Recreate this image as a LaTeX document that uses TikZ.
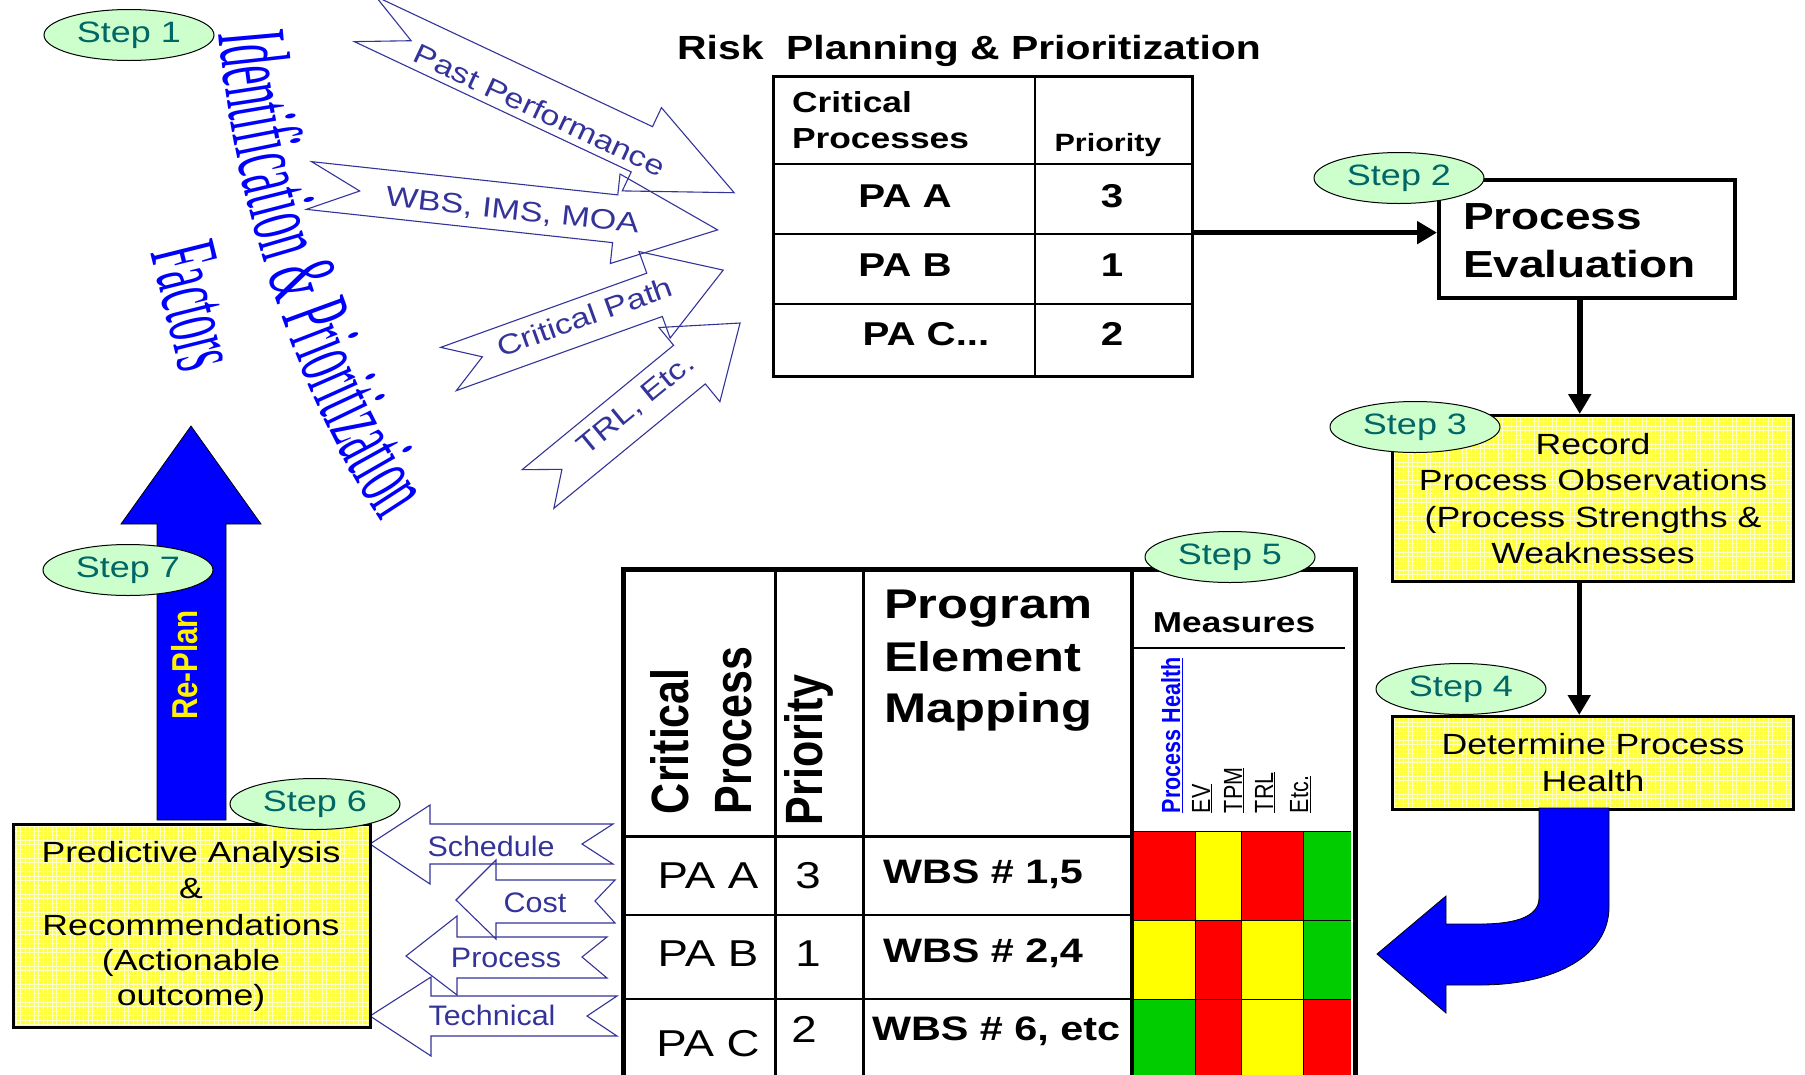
\documentclass[tikz,border=0pt]{standalone}
\usepackage{fontspec}
\setmainfont{Liberation Sans}[FakeStretch=1.22]
\newfontfamily\plainsans{Liberation Sans}
\newfontfamily\arrowfont{Liberation Sans}[FakeStretch=1.08]
\newfontfamily\idfont{Liberation Serif}[FakeStretch=0.44]
\usetikzlibrary{arrows.meta,decorations.text,calc,shapes.geometric}
\definecolor{stepfill}{RGB}{204,255,204}
\definecolor{steptext}{RGB}{0,102,102}
\definecolor{arrowblue}{RGB}{51,51,153}
\definecolor{boxyellow}{RGB}{255,255,60}
\definecolor{gridyellow}{RGB}{255,255,200}
\definecolor{cred}{RGB}{255,0,0}
\definecolor{cyellow}{RGB}{255,255,0}
\definecolor{cgreen}{RGB}{0,204,0}
\newcommand\myfs[2]{\fontsize{#1}{#2}\selectfont}
\begin{document}
\begin{tikzpicture}[x=1pt,y=-1pt,
  txt/.style={inner sep=0pt, outer sep=0pt},
  stepell/.style={ellipse, draw=black, line width=1pt, fill=stepfill, minimum width=170pt, minimum height=51pt, inner sep=0pt, text=steptext, font=\myfs{29.5}{31}},
  outl/.style={draw=arrowblue, line width=1.1pt, line join=miter},
  arrtext/.style={txt, text=arrowblue, font=\myfs{28}{30}},
  barrtext/.style={txt, anchor=base, text=arrowblue, font=\arrowfont\myfs{28.2}{30}},
  ybox/.style={draw=black, line width=2.5pt, fill=boxyellow, inner sep=0pt, anchor=north west,
    path picture={\draw[gridyellow, line width=0.7pt] (path picture bounding box.south west) grid[step=4.5pt] (path picture bounding box.north east);}},
  bigarrow/.style={line width=5.5pt, -{Triangle[length=20pt,width=22pt]}},
  body/.style={txt, anchor=base, font=\myfs{29.2}{36}},
  rotlab/.style={txt, rotate=90, anchor=base west, font=\plainsans\bfseries\myfs{43}{50}},
  measlab/.style={txt, rotate=90, anchor=base west, font=\plainsans\myfs{21.5}{24}},
]
\useasboundingbox (0,0) rectangle (1805,1074);
\clip (0,0) rectangle (1805,1074);

% ---------- title ----------
\node[txt, anchor=base, font=\bfseries\myfs{33.5}{36}] (title) at (969,59) {Risk~ Planning \& Prioritization};

% ---------- top table ----------
\node[draw, line width=3pt, minimum width=419pt, minimum height=300pt, anchor=north west, inner sep=0pt] (toptable) at (772,75) {};
\draw[line width=1.5pt] (1035,75) -- (1035,375);
\draw[line width=1.5pt] (772,164) -- (1191,164);
\draw[line width=1.5pt] (772,234) -- (1191,234);
\draw[line width=1.5pt] (772,304) -- (1191,304);
\node[txt, anchor=base west, font=\bfseries\myfs{29}{36}] (tcrit) at (792,112) {Critical};
\node[txt, anchor=base west, font=\bfseries\myfs{29}{36}] (tproc) at (792,148) {Processes};
\node[txt, anchor=base, font=\bfseries\myfs{25}{30}] (tprio) at (1108,151) {Priority};
\node[txt, anchor=base, font=\bfseries\myfs{33}{36}] (tpaa) at (905,207) {PA A};
\node[txt, anchor=base, font=\bfseries\myfs{33}{36}] (tthree) at (1112,207) {3};
\node[txt, anchor=base, font=\bfseries\myfs{33}{36}] (tpab) at (905,276) {PA B};
\node[txt, anchor=base, font=\bfseries\myfs{33}{36}] (tone) at (1112,276) {1};
\node[txt, anchor=base, font=\bfseries\myfs{33}{36}] (tpac) at (926,345) {PA C...};
\node[txt, anchor=base, font=\bfseries\myfs{33}{36}] (ttwo) at (1112,345) {2};

% ---------- right column boxes ----------
\node[draw, line width=3.5pt, fill=white, minimum width=296pt, minimum height=118pt, anchor=north west, inner sep=0pt] (pe) at (1437,178) {};
\node[txt, anchor=base west, font=\bfseries\myfs{37.7}{48}] (pe1) at (1463,229) {Process};
\node[txt, anchor=base west, font=\bfseries\myfs{37.7}{48}] (pe2) at (1463,277) {Evaluation};

\node[ybox, minimum width=401pt, minimum height=166pt] (rec) at (1391,414) {};
\node[body] (rec1) at (1593,454) {Record};
\node[body] (rec2) at (1593,490) {Process Observations};
\node[body] (rec3) at (1593,527) {(Process Strengths \&};
\node[body] (rec4) at (1593,563) {Weaknesses};

\node[ybox, minimum width=401pt, minimum height=93pt] (det) at (1391,715) {};
\node[body] (det1) at (1593,754) {Determine Process};
\node[body] (det2) at (1593,791) {Health};

\draw[bigarrow] ($(toptable.east)!0.5!(toptable.east|-pe.west)$) -- ($(pe.west)!0.5!(pe.west|-toptable.east)$);
\draw[bigarrow] ([xshift=-7pt]pe.south) -- ([xshift=-7pt]pe.south |- rec.north);
\draw[bigarrow] ([xshift=-13.5pt]rec.south) -- ([xshift=-13.5pt]det.north);

% curved blue arrow
\draw[fill=blue, draw=black, line width=0.8pt] (1539,808) -- (1539,898) .. controls (1539,918) and (1512,924) .. (1480,924) -- (1446,924) -- (1446,896) -- (1377,954) -- (1446,1013) -- (1446,985) -- (1480,985) .. controls (1556,985) and (1609,955) .. (1609,907) -- (1609,808) -- cycle;

% ---------- bottom table ----------
\fill[cred] (1134,831) rectangle (1195,920);
\fill[cyellow] (1195,831) rectangle (1241,920);
\fill[cred] (1241,831) rectangle (1303,920);
\fill[cgreen] (1303,831) rectangle (1351,920);
\fill[cyellow] (1134,920) rectangle (1195,999);
\fill[cred] (1195,920) rectangle (1241,999);
\fill[cyellow] (1241,920) rectangle (1303,999);
\fill[cgreen] (1303,920) rectangle (1351,999);
\fill[cgreen] (1134,999) rectangle (1195,1080);
\fill[cred] (1195,999) rectangle (1241,1080);
\fill[cyellow] (1241,999) rectangle (1303,1080);
\fill[cred] (1303,999) rectangle (1351,1080);
\draw[line width=1pt] (1195,831) -- (1195,1080) (1241,831) -- (1241,1080) (1303,831) -- (1303,1080)
  (1134,831) -- (1351,831) (1134,920) -- (1351,920) (1134,999) -- (1351,999);

\node[draw, line width=5pt, minimum width=732pt, minimum height=540pt, anchor=north west, inner sep=0pt] (bottable) at (621,567) {};
\draw[line width=3pt] (775,567) -- (775,1080);
\draw[line width=3pt] (863,567) -- (863,1080);
\draw[line width=4pt] (1132,567) -- (1132,1080);
\draw[line width=3pt] (621,836) -- (1132,836);
\draw[line width=2.5pt] (621,915) -- (1132,915);
\draw[line width=2.5pt] (621,999) -- (1132,999);
\draw[line width=2.5pt] (1134,648) -- (1345,648);

\node[rotlab] (hcrit) at (688,814) {\scalebox{1}[1.22]{Critical}};
\node[rotlab] (hproc) at (751,814) {\scalebox{1}[1.22]{Process}};
\node[rotlab] (hprio) at (822,825) {\scalebox{1}[1.22]{Priority}};
\node[txt, anchor=base west, font=\bfseries\myfs{41.5}{52}] (pem1) at (884,618) {Program};
\node[txt, anchor=base west, font=\bfseries\myfs{41.5}{52}] (pem2) at (884,671) {Element};
\node[txt, anchor=base west, font=\bfseries\myfs{41.5}{52}] (pem3) at (884,722) {Mapping};
\node[txt, anchor=base, font=\bfseries\myfs{28.8}{32}] (meas) at (1234,632) {Measures};
\node[measlab, text=blue, font=\plainsans\bfseries\myfs{21.5}{24}] (mph) at (1180,813) {\scalebox{1}[1.22]{\underline{Process Health}}};
\node[measlab] (mev) at (1210,813) {\scalebox{1}[1.22]{\underline{EV}}};
\node[measlab] (mtpm) at (1242,813) {\scalebox{1}[1.22]{\underline{TPM}}};
\node[measlab] (mtrl) at (1273,813) {\scalebox{1}[1.22]{\underline{TRL}}};
\node[measlab] (metc) at (1308,813) {\scalebox{1}[1.22]{\underline{Etc.}}};

\node[txt, anchor=base, font=\myfs{37.4}{40}] (bpaa) at (708,888) {PA A};
\node[txt, anchor=base, font=\myfs{37.4}{40}] (bthree) at (808,888) {3};
\node[txt, anchor=base west, font=\bfseries\myfs{33.9}{36}] (wbs1) at (883,883) {WBS \# 1,5};
\node[txt, anchor=base, font=\myfs{37.4}{40}] (bpab) at (708,966) {PA B};
\node[txt, anchor=base, font=\myfs{37.4}{40}] (bone) at (808,966) {1};
\node[txt, anchor=base west, font=\bfseries\myfs{33.9}{36}] (wbs2) at (883,962) {WBS \# 2,4};
\node[txt, anchor=base, font=\myfs{37.4}{40}] (bpac) at (708,1056) {PA C};
\node[txt, anchor=base, font=\myfs{37.4}{40}] (btwo) at (804,1042) {2};
\node[txt, anchor=base west, font=\bfseries\myfs{33.9}{36}] (wbs3) at (872,1040) {WBS \# 6, etc};

% ---------- bottom-left outlined arrows ----------
\draw[outl] (613,824) -- (430,824) -- (430,805) -- (370,844) -- (430,884) -- (430,864) -- (613,864) -- (582,844) -- cycle;
\draw[outl] (615,880) -- (496,880) -- (496,860) -- (456,900) -- (496,939) -- (496,923) -- (615,923) -- (595,901) -- cycle;
\draw[outl] (607,937) -- (457,937) -- (457,916) -- (406,956) -- (457,995) -- (457,978) -- (607,978) -- (582,957) -- cycle;
\draw[outl] (617,996) -- (431,996) -- (431,977) -- (370,1016) -- (431,1056) -- (431,1036) -- (617,1036) -- (587,1016) -- cycle;
\node[barrtext] (lsched) at (491,856) {Schedule};
\node[barrtext] (lcost) at (535,912) {Cost};
\node[barrtext] (lproc) at (506,967) {Process};
\node[barrtext] (ltech) at (492,1025) {Technical};

% ---------- predictive box and re-plan arrow ----------
\draw[fill=blue, draw=black, line width=0.8pt] (157,820) -- (157,524) -- (121,524) -- (191,426) -- (261,524) -- (226,524) -- (226,820) -- cycle;
\node[txt, rotate=90, text=yellow, font=\plainsans\bfseries\myfs{29.5}{32}] (replan) at (185,665) {\scalebox{1}[1.22]{Re-Plan}};
\node[ybox, minimum width=357pt, minimum height=203pt] (pred) at (12,823) {};
\node[body] (pred1) at (191,862) {Predictive Analysis};
\node[body] (pred2) at (191,898) {\&};
\node[body] (pred3) at (191,935) {Recommendations};
\node[body] (pred4) at (191,970) {(Actionable};
\node[body] (pred5) at (191,1005) {outcome)};

% ---------- top-left outlined arrows ----------
\begin{scope}[shift={(365,19)}, rotate=-25.2]
\draw[outl] (0,-25) -- (306,-25) -- (306,-46) -- (408,0) -- (306,46) -- (306,25) -- (0,25) -- (51,0) -- cycle;
\node[arrtext, rotate=-25.2] (apast) at (197,8) {Past Performance};
\end{scope}
\begin{scope}[shift={(309,185.5)}, rotate=-6.2]
\draw[outl] (0,-24) -- (308,-24) -- (308,-45) -- (411,0) -- (308,45) -- (308,24) -- (0,24) -- (51,0) -- cycle;
\node[arrtext, rotate=-6.2] (awbs) at (205,4) {WBS, IMS, MOA};
\end{scope}
\begin{scope}[shift={(448.5,369)}, rotate=19.8]
\draw[outl] (0,-23) -- (219,-23) -- (219,-46) -- (292,0) -- (219,46) -- (219,23) -- (0,23) -- (36,0) -- cycle;
\node[arrtext, rotate=19.8] (acrit) at (146,-3) {Critical Path};
\end{scope}
\begin{scope}[shift={(538,489)}, rotate=39.4]
\draw[outl] (0,-25) -- (196,-25) -- (196,-48) -- (261.5,0) -- (196,48) -- (196,25) -- (0,25) -- (31,0) -- cycle;
\node[arrtext, rotate=39.4] (atrl) at (129,-2) {TRL, Etc.};
\end{scope}

% ---------- curved word-art ----------
\path[decorate, decoration={text along path, text={|\idfont\myfs{99}{105}|Identification {\&} Prioritization}, text color=blue}] (219,33) .. controls (232,195) and (298,410) .. (398,545);
\node[txt, rotate=-76, text=blue, font=\idfont\myfs{97}{103}] (factors) at (196,306) {Factors};

% ---------- step ellipses ----------
\node[stepell] (s1) at (129,35) {Step 1};
\node[stepell] (s2) at (1399,178) {Step 2};
\node[stepell] (s3) at (1415,427) {Step 3};
\node[stepell] (s4) at (1461,689) {Step 4};
\node[stepell] (s5) at (1230,557) {Step 5};
\node[stepell] (s6) at (315,804) {Step 6};
\node[stepell] (s7) at (128,570) {Step 7};
\end{tikzpicture}
\end{document}
